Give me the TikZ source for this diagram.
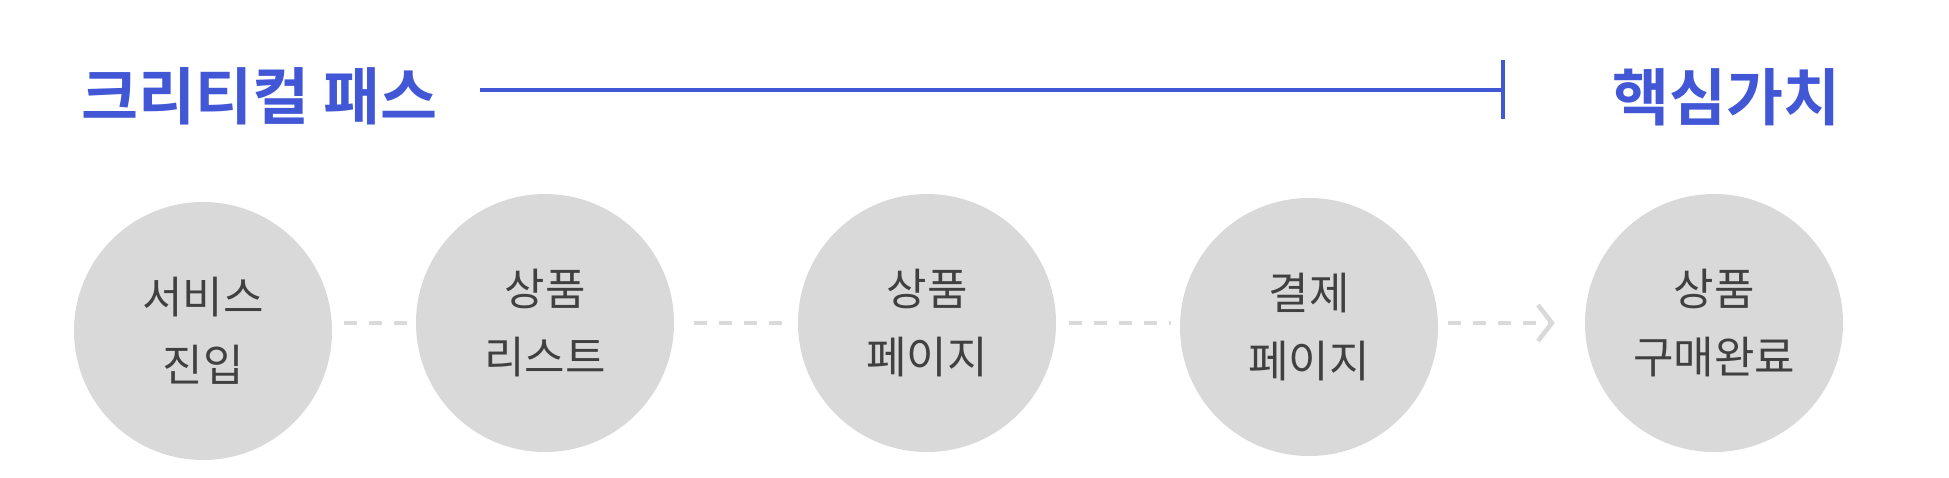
\documentclass[tikz,border=0pt]{standalone}
\usepackage{fontspec}
\usetikzlibrary{arrows.meta}
\newfontfamily\kr{Noto Sans CJK KR}
\newfontfamily\krb{Noto Sans CJK KR Bold}
\definecolor{brandblue}{HTML}{4257D6}
\definecolor{circgray}{HTML}{D9D9D9}
\definecolor{textgray}{HTML}{404040}
\begin{document}
\begin{tikzpicture}[x=1pt,y=-1pt,
  stepcircle/.style={circle,fill=circgray,minimum size=258pt,inner sep=0pt,
    align=center,text=textgray,font=\kr\fontsize{44}{68}\selectfont},
  titletext/.style={inner sep=0pt,anchor=west,text=brandblue,font=\krb\fontsize{62}{62}\selectfont},
  conn/.style={draw=circgray,line width=4pt,dash pattern=on 12.5pt off 12.5pt},
  bluerule/.style={draw=brandblue,line width=3.5pt}]
\useasboundingbox (0,0) rectangle (1949,477);
\node[titletext] (title) at (81,96) {크리티컬 패스};
\node[titletext] (core) at (1612,97) {핵심가치};
\coordinate (ls) at (480,90);
\coordinate (le) at (1503,90);
\coordinate (tt) at (1503,60);
\coordinate (tb) at (1503,119);
\draw[bluerule] (ls) -- (le);
\draw[bluerule] (tt) -- (tb);
\node[stepcircle] (c1) at (203,331) {서비스\\진입};
\node[stepcircle] (c2) at (545,323) {상품\\리스트};
\node[stepcircle] (c3) at (927,323) {상품\\페이지};
\node[stepcircle] (c4) at (1309,327) {결제\\페이지};
\node[stepcircle] (c5) at (1714,323) {상품\\구매완료};
\draw[conn] ([xshift=12pt,yshift=8pt]c1.east) -- ([xshift=-8pt]c2.west);
\draw[conn] ([xshift=20pt]c2.east) -- ([xshift=-16pt]c3.west);
\draw[conn] ([xshift=13pt]c3.east) -- ([xshift=-9pt,yshift=4pt]c4.west);
\draw[conn,-{Straight Barb[length=14pt,width=36pt,line width=4.5pt]}] ([xshift=10pt,yshift=4pt]c4.east) -- ([xshift=-30pt]c5.west);
\end{tikzpicture}
\end{document}
